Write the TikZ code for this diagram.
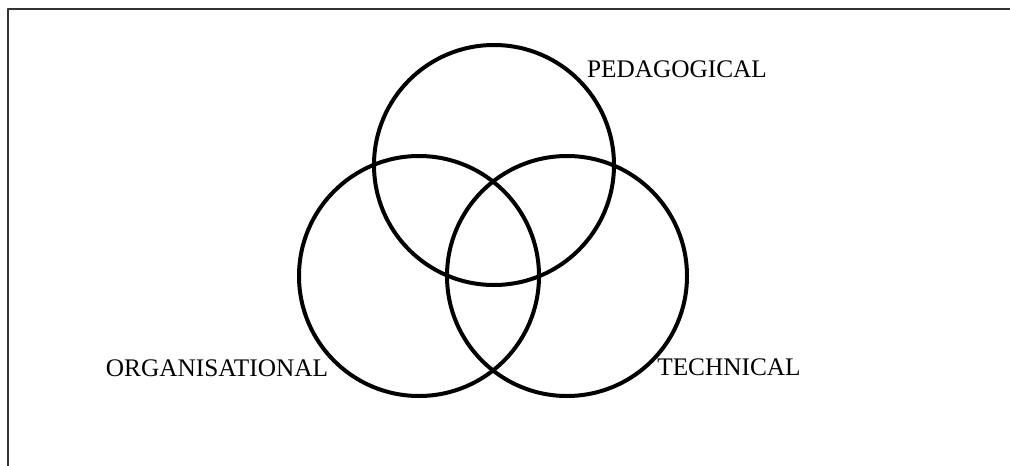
\documentclass[tikz,border=0pt]{standalone}
\usepackage{fontspec}
\setmainfont{Liberation Serif}
\begin{document}
\begin{tikzpicture}[x=1pt, y=-1pt, line join=round, line cap=round,
  ring/.style={circle, draw, line width=4pt, minimum size=240pt, inner sep=0pt},
  lbl/.style={font=\fontsize{25.3}{27}\selectfont, inner sep=0pt, anchor=base}]
\useasboundingbox (0,0) rectangle (1010,466);
% frame
\draw[line width=2pt, black!80] (8,466)--(8,9)--(1010,9);
% the three circles
\node[ring] (ped) at (494,165) {};
\node[ring] (org) at (419,276) {};
\node[ring] (tec) at (567,276) {};
% labels
\node[lbl] (pedlbl) at (677,77) {PEDAGOGICAL};
\node[lbl] (orglbl) at (217,376) {ORGANISATIONAL};
\node[lbl] (teclbl) at (729,375) {TECHNICAL};
\end{tikzpicture}
\end{document}
